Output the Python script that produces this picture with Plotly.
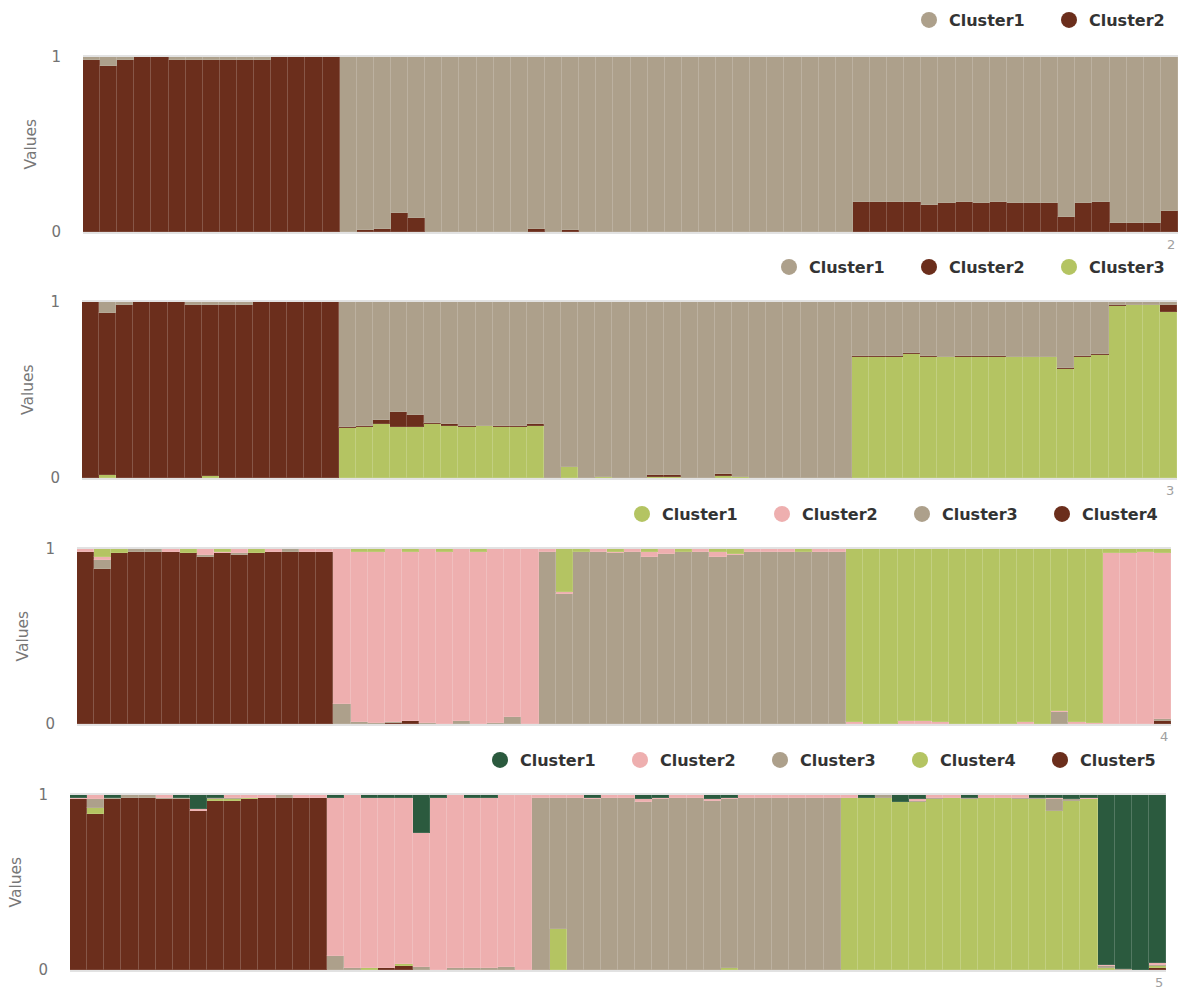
import plotly.graph_objects as go

# ---------------- data ----------------
samples = [str(i + 1) for i in range(64)]

# K = 2
k2_cluster1 = [0.017,0.05,0.017,0,0,0.017,0.017,0.017,0.017,0.017,0.017,0,0,0,0,
               1,0.99,0.983,0.89,0.922,1,1,1,1,1,1,0.983,1,0.99,1,
               1,1,1,1,1,1,1,1,1,1,1,1,1,1,1,
               0.83,0.83,0.83,0.83,0.845,0.837,0.83,0.837,0.83,0.837,0.837,0.837,0.915,0.837,0.83,
               0.949,0.949,0.949,0.88]
k2_cluster2 = [0.983,0.95,0.983,1,1,0.983,0.983,0.983,0.983,0.983,0.983,1,1,1,1,
               0,0.01,0.017,0.11,0.078,0,0,0,0,0,0,0.017,0,0.01,0,
               0,0,0,0,0,0,0,0,0,0,0,0,0,0,0,
               0.17,0.17,0.17,0.17,0.155,0.163,0.17,0.163,0.17,0.163,0.163,0.163,0.085,0.163,0.17,
               0.051,0.051,0.051,0.12]

# K = 3
k3_cluster1 = [0,0.06,0.015,0,0,0,0.015,0.015,0.015,0.015,0,0,0,0,0,
               0.71,0.703,0.67,0.627,0.644,0.687,0.693,0.703,0.703,0.703,0.703,0.693,1,0.94,1,
               0.992,1,1,0.981,0.981,1,1,0.975,0.992,1,1,1,1,1,1,
               0.306,0.306,0.306,0.288,0.306,0.312,0.306,0.306,0.306,0.312,0.312,0.312,0.375,0.306,0.295,
               0.015,0.015,0.015,0.019]
k3_cluster2 = [1,0.921,0.985,1,1,1,0.985,0.975,0.985,0.985,1,1,1,1,1,
               0.006,0.007,0.025,0.083,0.066,0.008,0.01,0.007,0,0.007,0.007,0.01,0,0,0,
               0,0,0,0.011,0.011,0,0,0.012,0,0,0,0,0,0,0,
               0.006,0.006,0.006,0.006,0.006,0,0.006,0.006,0.006,0,0,0,0.006,0.006,0.008,
               0.01,0,0,0.038]
k3_cluster3 = [0,0.019,0,0,0,0,0,0.01,0,0,0,0,0,0,0,
               0.284,0.29,0.305,0.29,0.29,0.305,0.297,0.29,0.297,0.29,0.29,0.297,0,0.06,0,
               0.008,0,0,0.008,0.008,0,0,0.013,0.008,0,0,0,0,0,0,
               0.688,0.688,0.688,0.706,0.688,0.688,0.688,0.688,0.688,0.688,0.688,0.688,0.619,0.688,0.697,
               0.975,0.985,0.985,0.943]

# K = 4
k4_cluster1 = [0,0.044,0.023,0,0,0,0.02,0,0.019,0,0.025,0,0,0,0,
               0,0.015,0.015,0,0.015,0,0.015,0,0.015,0,0,0,0,0.247,0.019,
               0,0.019,0,0.019,0,0.019,0,0.019,0.028,0,0,0,0.019,0,0,
               0.99,1,1,0.983,0.983,0.99,1,1,1,1,0.99,1,0.923,0.99,0.994,
               0.025,0.025,0.015,0.025]
k4_cluster2 = [0.019,0.019,0,0,0,0.019,0,0.033,0.006,0.023,0,0.019,0,0.019,0.019,
               0.884,0.972,0.979,0.988,0.97,0.994,0.985,0.985,0.985,0.992,0.96,1,0.019,0.009,0,
               0.019,0.006,0.019,0.025,0.028,0,0.019,0.025,0.008,0.019,0.019,0.019,0,0.019,0.019,
               0.01,0,0,0.017,0.017,0.01,0,0,0,0,0.01,0,0.01,0.01,0.006,
               0.975,0.975,0.985,0.945]
k4_cluster3 = [0,0.051,0,0.019,0.019,0,0.005,0.011,0,0.013,0,0,0.019,0,0,
               0.116,0.013,0.006,0.004,0,0.006,0,0.015,0,0.008,0.04,0,0.981,0.744,0.981,
               0.981,0.975,0.981,0.956,0.972,0.981,0.981,0.956,0.964,0.981,0.981,0.981,0.981,0.981,0.981,
               0,0,0,0,0,0,0,0,0,0,0,0,0.067,0,0,
               0,0,0,0.015]
k4_cluster4 = [0.981,0.886,0.977,0.981,0.981,0.981,0.975,0.956,0.975,0.964,0.975,0.981,0.981,0.981,0.981,
               0,0,0,0.008,0.015,0,0,0,0,0,0,0,0,0,0,
               0,0,0,0,0,0,0,0,0,0,0,0,0,0,0,
               0,0,0,0,0,0,0,0,0,0,0,0,0,0,0,
               0,0,0,0.015]

# K = 5
k5_cluster1 = [0.015,0,0.015,0,0,0,0.015,0.081,0.015,0,0,0,0,0,0,
               0.015,0,0.015,0.015,0.015,0.218,0.015,0,0.015,0.015,0,0,0,0,0,
               0.015,0,0,0.025,0.015,0,0,0.025,0.015,0,0,0,0,0,0,
               0,0.015,0,0.042,0.025,0,0,0.015,0,0,0,0.015,0.015,0.025,0.015,
               0.971,0.992,1,0.962]
k5_cluster2 = [0.009,0.025,0,0,0,0.019,0,0.009,0,0.019,0.015,0.015,0,0.015,0.015,
               0.907,0.991,0.972,0.972,0.953,0.765,0.985,0.989,0.974,0.974,0.981,1,0.015,0.015,0.015,
               0.009,0.015,0.015,0.017,0.009,0.015,0.015,0.008,0.009,0.015,0.015,0.015,0.015,0.015,0.015,
               0.015,0,0,0,0.008,0.015,0.015,0,0.015,0.015,0.015,0,0.009,0,0.009,
               0.008,0,0,0.009]
k5_cluster3 = [0,0.051,0.009,0.015,0.015,0.006,0.009,0,0.009,0.006,0,0,0.015,0,0,
               0.078,0.009,0,0,0,0.017,0,0.011,0.011,0.011,0.019,0,0.985,0.752,0.985,
               0.976,0.985,0.985,0.958,0.976,0.985,0.985,0.967,0.965,0.985,0.985,0.985,0.985,0.985,0.985,
               0,0,0.015,0,0.009,0.009,0,0.009,0,0,0.009,0.009,0.066,0.008,0,
               0.008,0.008,0,0.008]
k5_cluster4 = [0,0.032,0,0,0,0,0,0,0.008,0.008,0.009,0,0,0,0,
               0,0,0.013,0,0.011,0,0,0,0,0,0,0,0,0.233,0,
               0,0,0,0,0,0,0,0,0.011,0,0,0,0,0,0,
               0.985,0.985,0.985,0.958,0.958,0.976,0.985,0.976,0.985,0.985,0.976,0.976,0.91,0.967,0.976,
               0.013,0,0,0.008]
k5_cluster5 = [0.976,0.892,0.976,0.985,0.985,0.975,0.976,0.91,0.968,0.967,0.976,0.985,0.985,0.985,0.985,
               0,0,0,0.013,0.021,0,0,0,0,0,0,0,0,0,0,
               0,0,0,0,0,0,0,0,0,0,0,0,0,0,0,
               0,0,0,0,0,0,0,0,0,0,0,0,0,0,0,
               0,0,0,0.013]

BEIGE = "#ada08b"
BROWN = "#6b2e1c"
LGREEN = "#b4c462"
PINK = "#eeafaf"
DGREEN = "#2b5a3e"

panels = [
    (["Cluster1", "Cluster2"], [k2_cluster1, k2_cluster2], [BEIGE, BROWN], "2"),
    (["Cluster1", "Cluster2", "Cluster3"], [k3_cluster1, k3_cluster2, k3_cluster3], [BEIGE, BROWN, LGREEN], "3"),
    (["Cluster1", "Cluster2", "Cluster3", "Cluster4"],
     [k4_cluster1, k4_cluster2, k4_cluster3, k4_cluster4], [LGREEN, PINK, BEIGE, BROWN], "4"),
    (["Cluster1", "Cluster2", "Cluster3", "Cluster4", "Cluster5"],
     [k5_cluster1, k5_cluster2, k5_cluster3, k5_cluster4, k5_cluster5],
     [DGREEN, PINK, BEIGE, LGREEN, BROWN], "5"),
]

# ---------------- layout geometry (pixels) ----------------
W, H = 1184, 990
# plot rectangles: left, right, top, bottom
rects = [(83, 1178, 57, 232), (82, 1177, 302, 478), (77, 1171, 549, 724), (70, 1166, 795, 970)]
legend_y = [20, 267, 514, 760]
legend_first_x = [929, 789, 642, 500]
title_x = [30, 28, 22, 15]

FONT = "DejaVu Sans"

fig = go.Figure()
annotations = []
layout = dict(
    width=W, height=H,
    margin=dict(l=0, r=0, t=0, b=0, autoexpand=False),
    paper_bgcolor="white", plot_bgcolor="white",
    barmode="stack", bargap=0,
    font=dict(family=FONT),
)

for p, (names, series, colors, klabel) in enumerate(panels):
    idx = p + 1
    xa = "x" if idx == 1 else f"x{idx}"
    ya = "y" if idx == 1 else f"y{idx}"
    leg = "legend" if idx == 1 else f"legend{idx}"
    l, r, t, b = rects[p]

    # bars: last cluster at the bottom of the stack
    for name, vals, col in reversed(list(zip(names, series, colors))):
        fig.add_trace(go.Bar(
            x=samples, y=vals, name=name, xaxis=xa, yaxis=ya,
            marker=dict(color=col, line=dict(color="rgba(255,255,255,0.1)", width=1)),
            showlegend=False, hoverinfo="x+y+name",
        ))
    # legend entries (circles)
    for name, col in zip(names, colors):
        fig.add_trace(go.Scatter(
            x=[None], y=[None], mode="markers", name=name, xaxis=xa, yaxis=ya,
            marker=dict(color=col, size=18, symbol="circle"),
            legend=leg, showlegend=True,
        ))

    xkey = "xaxis" if idx == 1 else f"xaxis{idx}"
    ykey = "yaxis" if idx == 1 else f"yaxis{idx}"
    layout[xkey] = dict(
        domain=[l / W, r / W], anchor=ya, type="category",
        range=[-0.5, 63.5], showticklabels=False, showgrid=False, zeroline=False,
        showline=True, mirror=True, linecolor="#e2e2e2", linewidth=2, ticks="",
    )
    layout[ykey] = dict(
        domain=[1 - b / H, 1 - t / H], anchor=xa,
        range=[0, 1], tickvals=[0, 1], ticktext=["0", "1"],
        showgrid=False, zeroline=False, showline=False, ticks="",
        tickfont=dict(family=FONT, size=15, color="#737373"),
        ticklabelstandoff=21,
    )
    layout[leg] = dict(
        orientation="h", x=(legend_first_x[p] - 20) / W, xanchor="left",
        y=1 - legend_y[p] / H, yanchor="middle", traceorder="normal",
        font=dict(family=FONT, size=16, color="#333333", weight="bold"),
        entrywidth=95, entrywidthmode="pixels", bgcolor="rgba(0,0,0,0)",
        itemsizing="trace",
    )
    annotations.append(dict(
        text="Values", xref="paper", yref="paper",
        x=title_x[p] / W, y=1 - (t + b) / 2 / H, xanchor="center", yanchor="middle",
        textangle=-90, showarrow=False, font=dict(family=FONT, size=15.5, color="#777777"),
    ))
    annotations.append(dict(
        text=klabel, xref="paper", yref="paper",
        x=(r - 1) / W, y=1 - (b + 3) / H, xanchor="right", yanchor="top",
        showarrow=False, font=dict(family=FONT, size=13, color="#a0a0a0"),
    ))

layout["annotations"] = annotations
fig.update_layout(**layout)
fig.write_html("out.html")
